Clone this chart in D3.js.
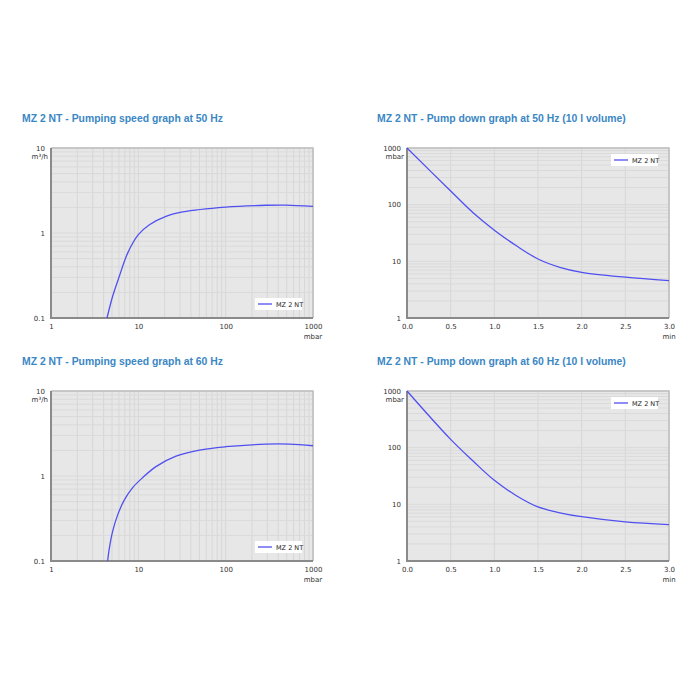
<!DOCTYPE html>
<html>
<head>
<meta charset="utf-8">
<script src="https://cdn.jsdelivr.net/npm/d3@7"></script>
<style>
  body { margin: 0; background: #fff; }
  svg { display: block; }
</style>
</head>
<body>
<script>
// chart data
var seriesName = "MZ 2 NT";

var speedPressure50 = [4.38, 5.08, 6.06, 7.55, 10, 13.4, 20.7, 32.2, 100, 288, 490, 1000];
var speedValues50   = [0.1, 0.18, 0.31, 0.58, 0.955, 1.25, 1.57, 1.77, 2.02, 2.12, 2.13, 2.06];

var speedPressure60 = [4.45, 4.66, 5.08, 5.8, 6.92, 8.61, 11.2, 15.9, 27, 50, 100, 288, 537, 1000];
var speedValues60   = [0.1, 0.142, 0.223, 0.349, 0.523, 0.73, 0.956, 1.29, 1.71, 2.02, 2.21, 2.37, 2.37, 2.27];

var downTime = [0, 0.5, 0.757, 1.0, 1.253, 1.5, 1.75, 2.0, 2.5, 3.0];
var downPressure50 = [1000, 174, 72, 35.5, 18.8, 11, 7.85, 6.4, 5.25, 4.57];
var downPressure60 = [1000, 140, 58, 26.5, 14.2, 9, 7.1, 6.05, 4.9, 4.4];

var speedXTicks = [1, 10, 100, 1000];
var speedYTicks = [0.1, 1, 10];
var downXTicks = [0, 0.5, 1.0, 1.5, 2.0, 2.5, 3.0];
var downYTicks = [1, 10, 100, 1000];

var titles = [
  "MZ 2 NT - Pumping speed graph at 50 Hz",
  "MZ 2 NT - Pump down graph at 50 Hz (10 l volume)",
  "MZ 2 NT - Pumping speed graph at 60 Hz",
  "MZ 2 NT - Pump down graph at 60 Hz (10 l volume)"
];

var w = 700, h = 700;
var titleColor = "#3b87c4";
var lineColor = "#5050f0";

var svg = d3.select("body").append("svg")
  .attr("width", w)
  .attr("height", h);

// log minor values (2..9 per decade)
function logMinors(lo, hi) {
  var out = [];
  for (var d = lo; d < hi; d *= 10) {
    for (var k = 1; k < 10; k++) out.push(d * k);
  }
  out.push(hi);
  return out;
}

function drawPanel(opt) {
  var g = svg.append("g");
  var x = opt.xScale, y = opt.yScale;

  g.append("text")
    .attr("x", opt.titleX).attr("y", opt.titleY)
    .attr("fill", titleColor)
    .style("font-family", "'Liberation Sans', Arial, sans-serif")
    .style("font-size", "10.4px")
    .style("font-weight", "bold")
    .text(opt.title);

  var x0 = x.range()[0], x1 = x.range()[1];
  var y0 = y.range()[1], y1 = y.range()[0];

  g.append("rect")
    .attr("x", x0).attr("y", y0)
    .attr("width", x1 - x0).attr("height", y1 - y0)
    .attr("fill", "#e7e7e7");

  // grid
  g.selectAll(".vg").data(opt.xGrid).join("line")
    .attr("x1", d => x(d)).attr("x2", d => x(d))
    .attr("y1", y0).attr("y2", y1)
    .attr("stroke", "#d7d7d7").attr("stroke-width", 1);
  g.selectAll(".hg").data(opt.yGrid).join("line")
    .attr("x1", x0).attr("x2", x1)
    .attr("y1", d => y(d)).attr("y2", d => y(d))
    .attr("stroke", "#dadada").attr("stroke-width", 1);

  // frame: light top/right, dark left/bottom
  g.append("path")
    .attr("d", "M" + x0 + "," + y0 + "H" + x1 + "V" + y1)
    .attr("fill", "none").attr("stroke", "#bdbdbd").attr("stroke-width", 1.5);
  g.append("path")
    .attr("d", "M" + x0 + "," + y0 + "V" + y1 + "H" + x1)
    .attr("fill", "none").attr("stroke", "#8a8a8a").attr("stroke-width", 2);

  // curve
  var line = d3.line()
    .x(d => x(d[0])).y(d => y(d[1]))
    .curve(d3.curveCatmullRom.alpha(0.5));
  g.append("path")
    .datum(d3.zip(opt.xs, opt.ys))
    .attr("d", line)
    .attr("fill", "none")
    .attr("stroke", lineColor)
    .attr("stroke-width", 1.3);

  // axes
  var tickFont = "'DejaVu Sans', Verdana, sans-serif";
  var xa = g.append("g").attr("transform", "translate(0," + (y1 + 3) + ")")
    .call(d3.axisBottom(x).tickValues(opt.xTicks).tickSize(0).tickFormat(opt.xFormat));
  xa.select(".domain").remove();
  xa.selectAll("text").attr("fill", "#333").style("font-family", tickFont).style("font-size", "7px");

  var ya = g.append("g").attr("transform", "translate(" + (x0 - 3) + ",0)")
    .call(d3.axisLeft(y).tickValues(opt.yTicks).tickSize(0).tickFormat(opt.yFormat));
  ya.select(".domain").remove();
  ya.selectAll("text").attr("fill", "#333").style("font-family", tickFont).style("font-size", "7px");

  // units
  g.append("text")
    .attr("x", x0 - 3).attr("y", y0 + 11)
    .attr("text-anchor", "end").attr("fill", "#333")
    .style("font-family", tickFont).style("font-size", "7px")
    .text(opt.yUnit);
  g.append("text")
    .attr("x", x1).attr("y", y1 + 21)
    .attr("text-anchor", "middle").attr("fill", "#333")
    .style("font-family", tickFont).style("font-size", "7px")
    .text(opt.xUnit);

  // legend
  var lg = g.append("g").attr("transform", "translate(" + opt.legX + "," + opt.legY + ")");
  lg.append("rect").attr("x", 0).attr("y", 0).attr("width", 47).attr("height", 12).attr("fill", "#fff");
  lg.append("line").attr("x1", 3).attr("x2", 17).attr("y1", 6).attr("y2", 6)
    .attr("stroke", lineColor).attr("stroke-width", 1.3);
  lg.append("text").attr("x", 21).attr("y", 8.5)
    .attr("fill", "#222")
    .style("font-family", tickFont).style("font-size", "6.5px")
    .text(seriesName);
}

function speedPanel(top, title, xs, ys) {
  var x = d3.scaleLog().domain([1, 1000]).range([51, 313]);
  var y = d3.scaleLog().domain([0.1, 10]).range([top + 170, top]);
  drawPanel({
    title: title, titleX: 22, titleY: top - 26,
    xScale: x, yScale: y, xs: xs, ys: ys,
    xGrid: logMinors(1, 1000), yGrid: logMinors(0.1, 10),
    xTicks: speedXTicks, yTicks: speedYTicks,
    xFormat: d3.format("~g"), yFormat: d3.format("~g"),
    yUnit: "m³/h", xUnit: "mbar",
    legX: 255, legY: top + 150
  });
}

function downPanel(top, title, ys) {
  var x = d3.scaleLinear().domain([0, 3]).range([407, 669]);
  var y = d3.scaleLog().domain([1, 1000]).range([top + 170, top]);
  drawPanel({
    title: title, titleX: 377, titleY: top - 26,
    xScale: x, yScale: y, xs: downTime, ys: ys,
    xGrid: downXTicks, yGrid: logMinors(1, 1000),
    xTicks: downXTicks, yTicks: downYTicks,
    xFormat: d3.format(".1f"), yFormat: d3.format("~g"),
    yUnit: "mbar", xUnit: "min",
    legX: 611, legY: top + 6
  });
}

speedPanel(148, titles[0], speedPressure50, speedValues50);
downPanel(148, titles[1], downPressure50);
speedPanel(391, titles[2], speedPressure60, speedValues60);
downPanel(391, titles[3], downPressure60);
</script>
</body>
</html>
